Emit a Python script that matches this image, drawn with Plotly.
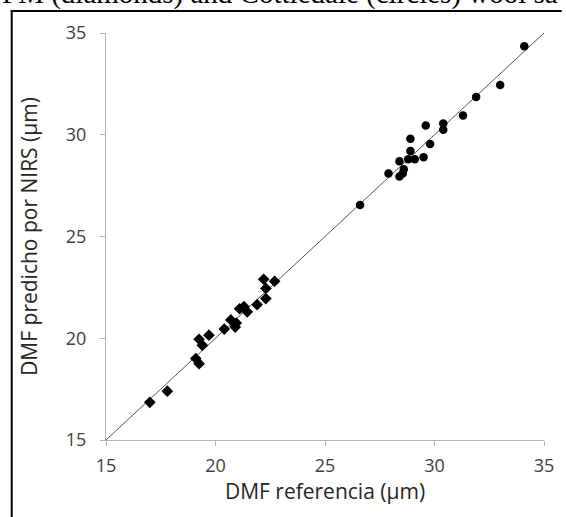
import plotly.graph_objects as go

# Diamonds (lower cluster)
x_diam = [17.0, 17.8, 19.1, 19.25, 19.25, 19.4, 19.7, 20.4, 20.7, 20.9, 20.95, 21.1, 21.3, 21.45, 21.9, 22.3, 22.3, 22.2, 22.7]
y_diam = [16.85, 17.4, 19.0, 18.75, 19.95, 19.65, 20.15, 20.45, 20.9, 20.55, 20.75, 21.45, 21.55, 21.3, 21.65, 21.95, 22.45, 22.9, 22.8]

# Circles (upper cluster)
x_circ = [26.6, 27.9, 28.4, 28.55, 28.6, 28.4, 28.8, 29.1, 28.9, 28.9, 29.5, 29.8, 29.6, 30.4, 30.4, 31.3, 31.9, 33.0, 34.1]
y_circ = [26.55, 28.1, 27.95, 28.1, 28.3, 28.7, 28.8, 28.8, 29.2, 29.8, 28.9, 29.55, 30.45, 30.25, 30.55, 30.95, 31.85, 32.45, 34.35]

line_x = [15, 35]
line_y = [15, 35]

ticks = [15, 20, 25, 30, 35]

W, H = 566, 517
L, R, T, B = 106, 14, 33, 77
pw = W - L - R
ph = H - T - B

def px2paper_x(px):
    return (px - L) / pw

def py2paper_y(py):
    return (H - B - py) / ph

fig = go.Figure()
fig.add_trace(go.Scatter(x=line_x, y=line_y, mode="lines",
                         line=dict(color="#555555", width=1), showlegend=False,
                         hoverinfo="skip"))
fig.add_trace(go.Scatter(x=x_diam, y=y_diam, mode="markers",
                         marker=dict(symbol="diamond", size=9, color="black"),
                         showlegend=False))
fig.add_trace(go.Scatter(x=x_circ, y=y_circ, mode="markers",
                         marker=dict(symbol="circle", size=8.5, color="black"),
                         showlegend=False))

axis_common = dict(
    range=[15, 35], tickvals=ticks, showgrid=False, zeroline=False,
    showline=True, linecolor="#b5b5b5", linewidth=1.2,
    ticks="outside", ticklen=5, tickcolor="#b5b5b5",
    tickfont=dict(family="Open Sans", size=18, color="#404040"),
)

fig.update_xaxes(**axis_common, ticklabelstandoff=4,
                 title=dict(text="DMF referencia (µm)",
                            font=dict(family="Open Sans", size=21, color="#262626"),
                            standoff=8))
fig.update_yaxes(**axis_common, ticklabelstandoff=10,
                 title=dict(text="DMF predicho por NIRS (µm)",
                            font=dict(family="Open Sans", size=21, color="#262626"),
                            standoff=22))

# outer frame: only its left and top edges fall inside the picture
fig.add_shape(type="line", xref="paper", yref="paper",
              x0=px2paper_x(10), x1=px2paper_x(10),
              y0=py2paper_y(520), y1=py2paper_y(10),
              line=dict(color="black", width=2), layer="below")
fig.add_shape(type="line", xref="paper", yref="paper",
              x0=px2paper_x(9), x1=px2paper_x(570),
              y0=py2paper_y(11), y1=py2paper_y(11),
              line=dict(color="black", width=2), layer="below")

# cut-off caption at top
fig.add_annotation(text="FM (diamonds) and Cottledale (circles) wool sa",
                   xref="paper", yref="paper",
                   x=px2paper_x(-2), y=py2paper_y(12),
                   xanchor="left", yanchor="bottom", showarrow=False,
                   font=dict(family="Liberation Serif", size=29, color="black"))

fig.update_layout(width=W, height=H, margin=dict(l=L, r=R, t=T, b=B),
                  plot_bgcolor="white", paper_bgcolor="white")

fig.write_html("out.html", config={"displayModeBar": False},
               post_script="document.body.style.margin='0px';document.body.style.overflow='hidden';")
